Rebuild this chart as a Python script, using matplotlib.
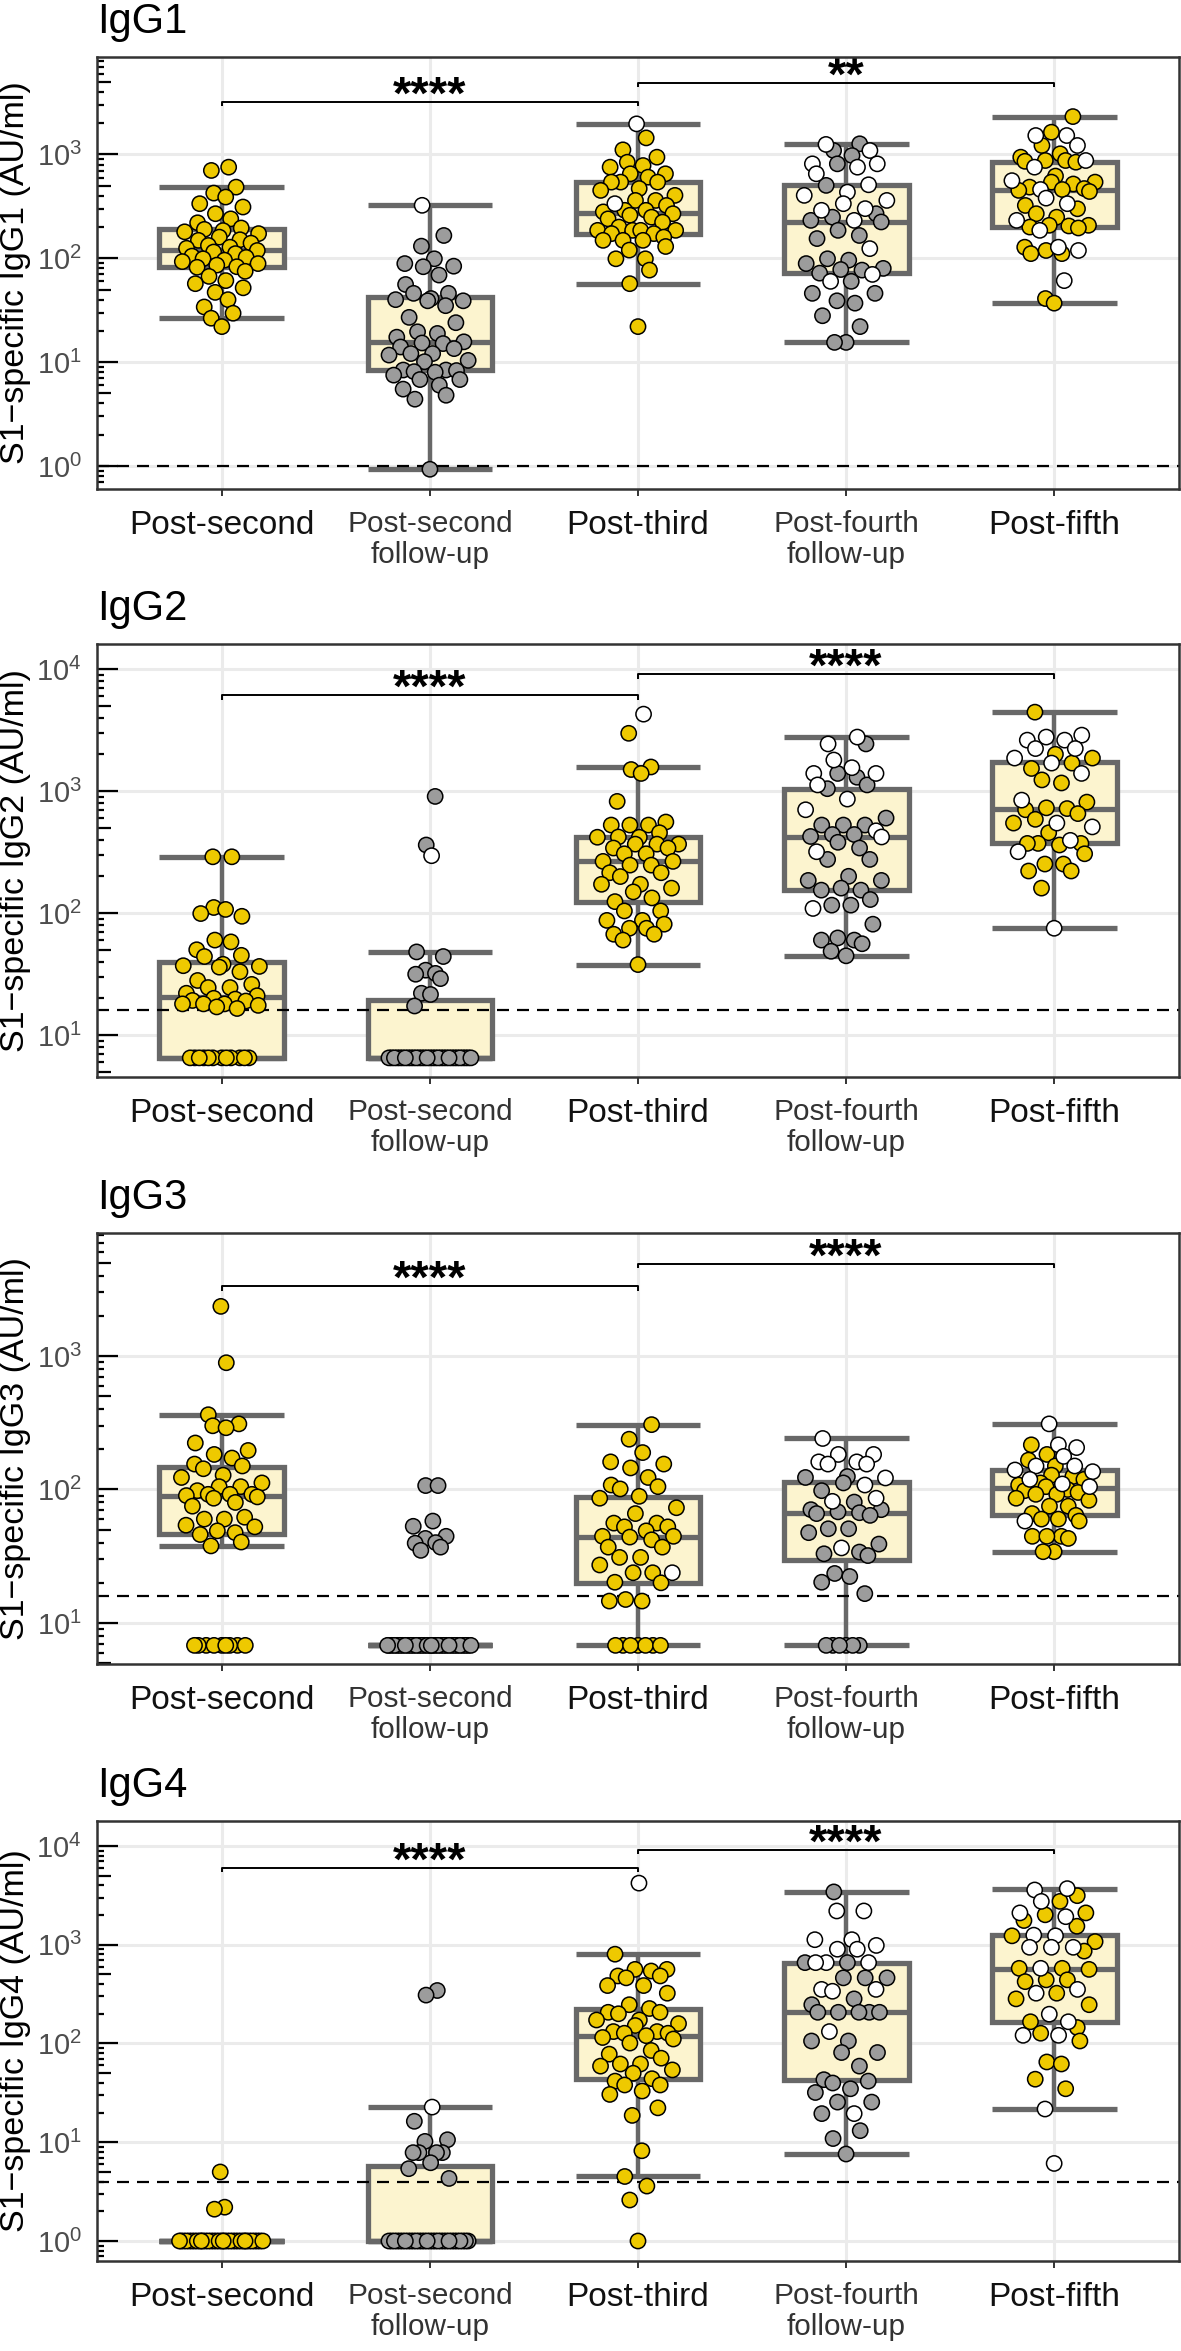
import numpy as np
import matplotlib
matplotlib.use("Agg")
import matplotlib.pyplot as plt
from matplotlib import cbook
from matplotlib.collections import LineCollection
from matplotlib.ticker import FixedLocator, NullLocator, FuncFormatter
import matplotlib.transforms as mtransforms

plt.rcParams['font.family'] = ['Liberation Sans', 'DejaVu Sans']
plt.rcParams['mathtext.fontset'] = 'custom'
plt.rcParams['mathtext.rm'] = 'Liberation Sans'
plt.rcParams['mathtext.it'] = 'Liberation Sans:italic'
plt.rcParams['mathtext.bf'] = 'Liberation Sans:bold'
plt.rcParams['lines.solid_capstyle'] = 'butt'

# ---------------- data ----------------
CATEGORIES = ["Post-second", "Post-second\nfollow-up", "Post-third",
              "Post-fourth\nfollow-up", "Post-fifth"]
FOLLOW_UP = [False, True, False, True, False]
PANEL_TITLES = ["IgG1", "IgG2", "IgG3", "IgG4"]
Y_LABELS = ["S1\u2212specific IgG1 (AU/ml)", "S1\u2212specific IgG2 (AU/ml)",
            "S1\u2212specific IgG3 (AU/ml)", "S1\u2212specific IgG4 (AU/ml)"]
CUTOFFS = [1, 16, 16, 4]
BRACKET_PAIRS = [(0, 2), (2, 4)]
BRACKET_Y = [(3206, 4887), (6120, 9100), (3342, 4890), (5988, 9110)]
BRACKET_LABELS = [("****", "**"), ("****", "****"), ("****", "****"), ("****", "****")]
Y_LIMITS_LOG = [(-0.2216, 3.939), (0.656, 4.205), (0.693, 3.921), (-0.2025, 4.253)]

# IgG1
IGG1_POST2_FILLED = [755, 702, 485, 425, 389, 336, 312, 269, 240, 220, 196, 190, 185, 180, 173,
                     160, 151, 149, 140, 133, 128, 125, 119, 115, 111, 105, 102, 99, 96, 93,
                     89, 86, 83, 82, 75, 67, 61, 57, 52, 47, 40, 34, 29.6, 26.5, 22]
IGG1_POST2_OPEN = []
IGG1_POST2FU_FILLED = [166, 131, 99, 89, 84, 83, 69, 56, 46, 46, 41, 40, 39, 39, 35, 27, 24,
                       19.6, 18.9, 17.4, 15.7, 15.3, 15.1, 14, 13.5, 12.1, 12.1, 11.7, 10.4,
                       10.1, 8.4, 8.4, 8.3, 8.1, 8.0, 7.5, 6.8, 6.8, 6.0, 5.5, 4.8, 4.4, 0.93]
IGG1_POST2FU_OPEN = [324]
IGG1_POST3_FILLED = [1445, 1109, 942, 843, 783, 755, 652, 652, 605, 542, 542, 542, 470, 451,
                     404, 361, 361, 323, 290, 290, 280, 269, 260, 249, 240, 223, 200, 186, 186,
                     186, 186, 173, 173, 160, 149, 149, 149, 130, 120, 99, 99, 77, 57, 22]
IGG1_POST3_OPEN = [1973, 336]
IGG1_POST4FU_FILLED = [1268, 1092, 977, 813, 504, 269, 249, 232, 224, 186, 166, 155, 99, 96,
                       89, 80, 78, 77, 72, 60, 46, 46, 39, 37, 28, 22, 15.5, 15.5]
IGG1_POST4FU_OPEN = [1250, 1092, 813, 813, 755, 652, 511, 434, 404, 361, 336, 301, 290, 232,
                     124, 70, 60]
IGG1_POST5_FILLED = [2318, 1640, 1221, 1016, 942, 875, 875, 860, 843, 620, 542, 542, 520, 485,
                     470, 460, 451, 440, 323, 300, 269, 249, 208, 208, 205, 200, 196, 128, 119,
                     111, 111, 41, 37]
IGG1_POST5_OPEN = [1523, 1523, 1221, 875, 755, 560, 460, 380, 336, 232, 186, 128, 119, 61]

# IgG2
IGG2_POST2_FILLED = [289, 289, 111, 107, 99, 94, 60, 58, 50, 45, 44, 38, 37, 36.5, 36, 33, 28,
                     26, 24.5, 24.5, 22, 21, 20, 19.7, 19.2, 19, 18, 18, 18, 17.5, 17, 16.5,
                     6.5, 6.5, 6.5, 6.5, 6.5, 6.5, 6.5, 6.5, 6.5, 6.5, 6.5, 6.5]
IGG2_POST2_OPEN = []
IGG2_POST2FU_FILLED = [903, 361, 48, 44, 34, 32, 31.5, 29, 22, 21.5, 17.3,
                       6.5, 6.5, 6.5, 6.5, 6.5, 6.5, 6.5, 6.5, 6.5, 6.5, 6.5, 6.5, 6.5, 6.5,
                       6.5, 6.5, 6.5, 6.5, 6.5, 6.5, 6.5, 6.5, 6.5, 6.5, 6.5, 6.5, 6.5, 6.5,
                       6.5, 6.5, 6.5]
IGG2_POST2FU_OPEN = [295]
IGG2_POST3_FILLED = [2972, 1574, 1500, 1393, 822, 557, 526, 526, 526, 455, 420, 418, 418, 367,
                     367, 367, 341, 341, 306, 306, 265, 265, 247, 247, 214, 214, 199, 172, 172,
                     160, 149, 133, 124, 104, 104, 87, 87, 81, 75, 75, 67, 67, 60, 37.8]
IGG2_POST3_OPEN = [4266]
IGG2_POST4FU_FILLED = [2432, 1393, 1297, 1122, 1045, 600, 526, 526, 526, 440, 440, 424, 380,
                       341, 275, 275, 200, 185, 185, 160, 154, 154, 129, 116, 116, 81, 62.5, 60,
                       60, 56, 48.6, 44.6]
IGG2_POST4FU_OPEN = [2768, 2432, 1795, 1553, 1393, 1393, 1122, 859, 702, 472, 420, 318, 109]
IGG2_POST5_FILLED = [4430, 2000, 1862, 1694, 1530, 1233, 1164, 811, 728, 718, 702, 653, 586,
                     546, 455, 372, 372, 372, 361, 306, 252, 252, 221, 221, 160]
IGG2_POST5_OPEN = [2871, 2768, 2612, 2612, 2228, 2228, 1862, 1694, 1394, 842, 546, 508, 394,
                   318, 75]

# IgG3
IGG3_POST2_FILLED = [2352, 890, 363, 310, 300, 290, 223, 196, 183, 172, 155, 150, 143, 128, 123,
                     112, 105, 105, 98, 92, 92, 92, 90, 88, 86, 80, 75, 62, 60, 60, 54, 52.5,
                     49, 47.5, 46, 40.4, 37.8,
                     6.8, 6.8, 6.8, 6.8, 6.8, 6.8, 6.8, 6.8, 6.8]
IGG3_POST2_OPEN = []
IGG3_POST2FU_FILLED = [107, 107, 58, 53, 44.6, 43, 40, 39.6, 37, 35,
                       6.8, 6.8, 6.8, 6.8, 6.8, 6.8, 6.8, 6.8, 6.8, 6.8, 6.8, 6.8, 6.8, 6.8,
                       6.8, 6.8, 6.8, 6.8, 6.8, 6.8, 6.8, 6.8, 6.8, 6.8, 6.8, 6.8, 6.8, 6.8,
                       6.8, 6.8, 6.8, 6.8, 6.8]
IGG3_POST2FU_OPEN = []
IGG3_POST3_FILLED = [306, 238, 189, 161, 155, 145, 123, 108, 105, 101, 88.9, 86, 73, 66, 56, 56,
                     52.5, 52.5, 49, 44.6, 44.6, 44, 42, 37, 37, 31, 31, 27.2, 23.8, 23.8, 20.2,
                     20, 15, 14.6, 14.6,
                     6.8, 6.8, 6.8, 6.8, 6.8, 6.8, 6.8]
IGG3_POST3_OPEN = [23.8]
IGG3_POST4FU_FILLED = [125, 123, 112, 98, 80.5, 70.6, 70.6, 68, 67, 66, 64, 50.8, 50.8, 47.5,
                       39, 34, 33, 32, 23.5, 22.3, 20.2, 16.6,
                       6.8, 6.8, 6.8, 6.8, 6.8, 6.8]
IGG3_POST4FU_OPEN = [241, 183, 183, 161, 161, 155, 155, 122, 108, 86, 81.5, 36.5]
IGG3_POST5_FILLED = [216, 183, 166, 150, 128, 125, 119, 112, 108, 105, 100, 98, 95, 92, 92, 86,
                     83, 75, 75, 66, 64, 60, 60, 58, 44.6, 44.6, 44.6, 43, 34.2, 34.2]
IGG3_POST5_OPEN = [310, 216, 206, 177, 150, 150, 140, 136, 119, 110, 105, 58]

# IgG4
IGG4_POST2_FILLED = [5.0, 2.2, 2.1,
                     1.0, 1.0, 1.0, 1.0, 1.0, 1.0, 1.0, 1.0, 1.0, 1.0, 1.0, 1.0, 1.0, 1.0,
                     1.0, 1.0, 1.0, 1.0, 1.0, 1.0, 1.0, 1.0, 1.0, 1.0, 1.0, 1.0, 1.0, 1.0,
                     1.0, 1.0, 1.0, 1.0, 1.0, 1.0, 1.0]
IGG4_POST2_OPEN = []
IGG4_POST2FU_FILLED = [344, 309, 16.3, 10.6, 10.2, 7.85, 7.85, 7.85, 7.85, 6.2, 5.4, 4.3,
                       1.0, 1.0, 1.0, 1.0, 1.0, 1.0, 1.0, 1.0, 1.0, 1.0, 1.0, 1.0, 1.0, 1.0,
                       1.0, 1.0, 1.0, 1.0, 1.0, 1.0, 1.0, 1.0, 1.0, 1.0, 1.0, 1.0, 1.0, 1.0,
                       1.0, 1.0]
IGG4_POST2FU_OPEN = [22.7]
IGG4_POST3_FILLED = [802, 563, 563, 542, 483, 483, 462, 386, 386, 323, 247, 226, 207, 207, 200,
                     173, 173, 159, 152, 132, 132, 127, 127, 120, 115, 111, 101, 85, 78, 71, 62,
                     62, 59, 54, 50, 44, 41.6, 38, 38, 33, 30.5, 22.3, 18.7, 8.2, 4.5, 3.6, 2.6,
                     1.0]
IGG4_POST3_OPEN = [4206]
IGG4_POST4FU_FILLED = [3428, 659, 659, 462, 462, 462, 283, 247, 207, 207, 207, 207, 207, 106,
                       106, 81, 81, 59, 43, 41.6, 39.8, 34.8, 31.9, 25.5, 25.5, 19.5, 13.1,
                       10.9, 7.6]
IGG4_POST4FU_OPEN = [2198, 2198, 1125, 1125, 984, 901, 901, 659, 659, 659, 353, 353, 338, 132,
                     19.5]
IGG4_POST5_FILLED = [3140, 2748, 2101, 2010, 1759, 1539, 1231, 1076, 862, 577, 577, 563, 441,
                     441, 423, 323, 283, 247, 166, 145, 127, 106, 65, 62, 43.5, 34.8]
IGG4_POST5_OPEN = [3700, 3586, 2748, 2101, 1924, 1250, 1231, 942, 942, 942, 577, 353, 323, 198,
                   166, 121, 121, 21.7, 6.1]

FILLED = [
    [IGG1_POST2_FILLED, IGG1_POST2FU_FILLED, IGG1_POST3_FILLED, IGG1_POST4FU_FILLED, IGG1_POST5_FILLED],
    [IGG2_POST2_FILLED, IGG2_POST2FU_FILLED, IGG2_POST3_FILLED, IGG2_POST4FU_FILLED, IGG2_POST5_FILLED],
    [IGG3_POST2_FILLED, IGG3_POST2FU_FILLED, IGG3_POST3_FILLED, IGG3_POST4FU_FILLED, IGG3_POST5_FILLED],
    [IGG4_POST2_FILLED, IGG4_POST2FU_FILLED, IGG4_POST3_FILLED, IGG4_POST4FU_FILLED, IGG4_POST5_FILLED],
]
OPEN = [
    [IGG1_POST2_OPEN, IGG1_POST2FU_OPEN, IGG1_POST3_OPEN, IGG1_POST4FU_OPEN, IGG1_POST5_OPEN],
    [IGG2_POST2_OPEN, IGG2_POST2FU_OPEN, IGG2_POST3_OPEN, IGG2_POST4FU_OPEN, IGG2_POST5_OPEN],
    [IGG3_POST2_OPEN, IGG3_POST2FU_OPEN, IGG3_POST3_OPEN, IGG3_POST4FU_OPEN, IGG3_POST5_OPEN],
    [IGG4_POST2_OPEN, IGG4_POST2FU_OPEN, IGG4_POST3_OPEN, IGG4_POST4FU_OPEN, IGG4_POST5_OPEN],
]

# ---------------- style / layout ----------------
FIG_W, FIG_H, DPI = 1181, 2351, 100
GOLD = "#EEC900"
GREY_PT = "#9C9C9C"
BOX_FILL = "#FCF4CF"
BOX_EDGE = "#686868"
AXES_PX = [(57, 489), (644, 1077), (1233, 1664), (1821, 2261)]
LEFT_PX, RIGHT_PX = 97, 1179


def vdc(n):
    out = np.zeros(n)
    for i in range(1, n + 1):
        x, denom, k = 0.0, 1.0, i
        while k:
            denom *= 2.0
            x += (k % 2) / denom
            k //= 2
        out[i - 1] = x
    return out


def nrd0(x):
    hi = np.std(x, ddof=1) if len(x) > 1 else 0.0
    q75, q25 = np.percentile(x, [75, 25])
    lo = min(hi, (q75 - q25) / 1.34)
    if lo <= 0:
        lo = hi if hi > 0 else (abs(x[0]) if x[0] != 0 else 1.0)
    return 0.9 * lo * len(x) ** -0.2


def quasi_offsets(vals, width=0.21):
    ly = np.log10(np.asarray(vals, float))
    n = len(ly)
    if n < 2:
        return np.zeros(n)
    bw = nrd0(ly)
    d = np.exp(-0.5 * ((ly[:, None] - ly[None, :]) / bw) ** 2).sum(axis=1)
    d = d / d.max()
    ranks = np.argsort(np.argsort(ly, kind='stable'), kind='stable')
    q = vdc(n)[ranks]
    return (q - 0.5) * 2 * width * np.sqrt(d)


fig = plt.figure(figsize=(FIG_W / DPI, FIG_H / DPI), dpi=DPI)
axes_w_px = RIGHT_PX - LEFT_PX

for p in range(4):
    top, bot = AXES_PX[p]
    ax = fig.add_axes([LEFT_PX / FIG_W, 1 - bot / FIG_H, axes_w_px / FIG_W, (bot - top) / FIG_H])
    lo, hi = Y_LIMITS_LOG[p]
    ax.set_yscale('log')
    ax.set_ylim(10 ** lo, 10 ** hi)
    ax.set_xlim(-0.6, 4.6)
    decade_px = (bot - top) / (hi - lo)

    # grid
    ax.set_axisbelow(True)
    ax.grid(True, which='major', color='#EBEBEB', linewidth=2.2)
    for s in ax.spines.values():
        s.set_color('#333333')
        s.set_linewidth(1.8)
        s.set_zorder(6)

    # y ticks
    decades = [10.0 ** k for k in range(int(np.ceil(lo)), int(np.floor(hi)) + 1)]
    ax.yaxis.set_major_locator(FixedLocator(decades))
    ax.yaxis.set_minor_locator(NullLocator())
    ax.yaxis.set_major_formatter(FuncFormatter(
        lambda v, pos: r'$\mathregular{10^{%d}}$' % int(round(np.log10(v)))))
    ax.tick_params(axis='y', which='both', length=0, pad=11, labelsize=21, labelcolor='#4D4D4D')

    # x ticks
    ax.set_xticks(range(len(CATEGORIES)))
    ax.set_xticklabels(CATEGORIES)
    ax.tick_params(axis='x', length=5, width=1.4, color='#333333', pad=10)
    for lab, fu in zip(ax.get_xticklabels(), FOLLOW_UP):
        lab.set_verticalalignment('top')
        lab.set_fontsize(21.4 if fu else 24)
        lab.set_color('#333333' if fu else '#111111')
        lab.set_linespacing(1.15)

    # log ticks (annotation_logticks, left side)
    segs = []
    for k in range(int(np.floor(lo)), int(np.ceil(hi)) + 1):
        for m in range(1, 10):
            v = m * 10.0 ** k
            if 10 ** lo <= v <= 10 ** hi:
                L = 21 if m == 1 else (14 if m == 5 else 7)
                segs.append([(0, v), (L / axes_w_px, v)])
    trans = mtransforms.blended_transform_factory(ax.transAxes, ax.transData)
    ax.add_collection(LineCollection(segs, colors='black', linewidths=1.6,
                                     transform=trans, zorder=4), autolim=False)

    # boxes
    stats = []
    for i in range(5):
        allv = np.array(FILLED[p][i] + OPEN[p][i], float)
        st = cbook.boxplot_stats(np.log10(allv), whis=1.5)[0]
        for key in ('med', 'q1', 'q3', 'whislo', 'whishi', 'mean', 'cilo', 'cihi'):
            st[key] = 10 ** st[key]
        st['fliers'] = np.array([])
        stats.append(st)
    ax.bxp(stats, positions=list(range(5)), widths=0.6, capwidths=0.6,
           showfliers=False, showmeans=False, patch_artist=True,
           boxprops=dict(facecolor=BOX_FILL, edgecolor=BOX_EDGE, linewidth=3.8),
           whiskerprops=dict(color=BOX_EDGE, linewidth=3.2),
           capprops=dict(color=BOX_EDGE, linewidth=3.8),
           medianprops=dict(color=BOX_EDGE, linewidth=3.8),
           manage_ticks=False, zorder=1.5)

    # cutoff
    ax.axhline(CUTOFFS[p], color='black', linewidth=1.6, dashes=(5.4, 3.6), zorder=2.2)

    # points
    for i in range(5):
        f = list(FILLED[p][i])
        o = list(OPEN[p][i])
        vals = np.array(f + o, float)
        fc = GREY_PT if FOLLOW_UP[i] else GOLD
        colors = [fc] * len(f) + ['white'] * len(o)
        xs = i + quasi_offsets(vals)
        ax.scatter(xs, vals, s=121, c=colors, edgecolors='black', linewidths=1.1, zorder=3)

    # brackets
    for j, (a, b) in enumerate(BRACKET_PAIRS):
        yb = BRACKET_Y[p][j]
        ytip = 10 ** (np.log10(yb) - 4.5 / decade_px)
        ax.plot([a, a, b, b], [ytip, yb, yb, ytip], color='black', linewidth=1.4,
                zorder=5, solid_capstyle='butt')
        ax.annotate(BRACKET_LABELS[p][j], xy=((a + b) / 2, yb), xycoords='data',
                    xytext=(0, -4.6), textcoords='offset points', ha='center',
                    va='baseline', fontsize=34, fontweight='bold', zorder=5)

    # title and y label
    ax.annotate(PANEL_TITLES[p], xy=(0, 1), xycoords='axes fraction', xytext=(0, 17.3),
                textcoords='offset points', ha='left', va='baseline', fontsize=30)
    ax.set_ylabel(Y_LABELS[p], fontsize=24.5, color='black')
    ax.yaxis.set_label_coords(-0.061, 0.5)

fig.savefig('out.png', dpi=DPI)
